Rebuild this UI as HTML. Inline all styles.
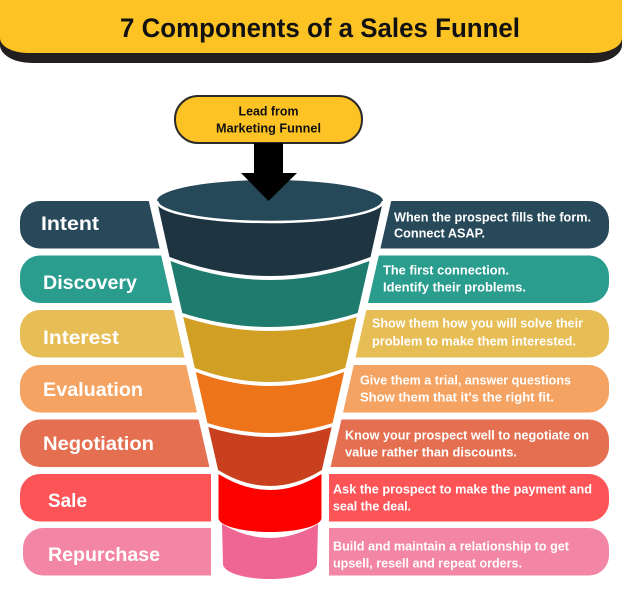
<!DOCTYPE html>
<html>
<head>
<meta charset="utf-8">
<style>
  html,body{margin:0;padding:0;background:#fff;}
  svg{display:block;}
  text{font-family:"Liberation Sans", Arial, sans-serif;font-weight:bold;}
</style>
</head>
<body>
<svg width="622" height="590" viewBox="0 0 622 590" xmlns="http://www.w3.org/2000/svg">
  <!-- Header -->
  <path d="M0,-10 H622 V45 A32,18 0 0 1 590,63 H32 A32,18 0 0 1 0,45 Z" fill="#231f20"/>
  <path d="M0,-10 H622 V38 A28,15 0 0 1 594,53 H28 A28,15 0 0 1 0,38 Z" fill="#fdc224"/>
  <text x="120" y="37" font-size="27" fill="#111" textLength="400" lengthAdjust="spacingAndGlyphs">7 Components of a Sales Funnel</text>

  <!-- Lead box -->
  <rect x="175" y="96" width="187" height="47" rx="23" ry="23" fill="#fdc224" stroke="#2a2a2a" stroke-width="2"/>
  <text x="238.5" y="115.5" font-size="12.5" fill="#111" textLength="60" lengthAdjust="spacingAndGlyphs">Lead from</text>
  <text x="216" y="132.5" font-size="12.5" fill="#111" textLength="105" lengthAdjust="spacingAndGlyphs">Marketing Funnel</text>

  <!-- Left pills -->
  <path d="M40,201 H148.8 L159.6,248.5 H40 A20,20 0 0 1 20,228.5 V221 A20,20 0 0 1 40,201 Z" fill="#27495a"/>
  <path d="M40,255.5 H161.2 L172,303 H40 A20,20 0 0 1 20,283 V275.5 A20,20 0 0 1 40,255.5 Z" fill="#2a9d8f"/>
  <path d="M40,310 H173.6 L184.5,357.5 H40 A20,20 0 0 1 20,337.5 V330 A20,20 0 0 1 40,310 Z" fill="#e7bd55"/>
  <path d="M40,365 H186.2 L197,412.5 H40 A20,20 0 0 1 20,392.5 V385 A20,20 0 0 1 40,365 Z" fill="#f4a362"/>
  <path d="M40,419.5 H198.6 L209.4,467 H40 A20,20 0 0 1 20,447 V439.5 A20,20 0 0 1 40,419.5 Z" fill="#e56f51"/>
  <path d="M40,474 H211 V521.5 H40 A20,20 0 0 1 20,501.5 V494 A20,20 0 0 1 40,474 Z" fill="#fd5458"/>
  <path d="M43,528 H211 V575.5 H43 A20,20 0 0 1 23,555.5 V548 A20,20 0 0 1 43,528 Z" fill="#f386a4"/>

  <!-- Left labels -->
  <g fill="#fff" font-size="19.5">
    <text x="41" y="230" textLength="58" lengthAdjust="spacingAndGlyphs">Intent</text>
    <text x="43" y="289" textLength="94" lengthAdjust="spacingAndGlyphs">Discovery</text>
    <text x="43" y="344" textLength="76" lengthAdjust="spacingAndGlyphs">Interest</text>
    <text x="43" y="396" textLength="100" lengthAdjust="spacingAndGlyphs">Evaluation</text>
    <text x="43" y="450" textLength="111" lengthAdjust="spacingAndGlyphs">Negotiation</text>
    <text x="48" y="507" textLength="39" lengthAdjust="spacingAndGlyphs">Sale</text>
    <text x="48" y="561" textLength="112" lengthAdjust="spacingAndGlyphs">Repurchase</text>
  </g>

  <!-- Right pills -->
  <path d="M391.2,201 H589 A20,20 0 0 1 609,221 V228.5 A20,20 0 0 1 589,248.5 H380.4 Z" fill="#27495a"/>
  <path d="M378.8,255.5 H589 A20,20 0 0 1 609,275.5 V283 A20,20 0 0 1 589,303 H368 Z" fill="#2a9d8f"/>
  <path d="M366.4,310 H589 A20,20 0 0 1 609,330 V337.5 A20,20 0 0 1 589,357.5 H355.5 Z" fill="#e7bd55"/>
  <path d="M353.8,365 H589 A20,20 0 0 1 609,385 V392.5 A20,20 0 0 1 589,412.5 H343 Z" fill="#f4a362"/>
  <path d="M341.4,419.5 H589 A20,20 0 0 1 609,439.5 V447 A20,20 0 0 1 589,467 H330.6 Z" fill="#e56f51"/>
  <path d="M329,474 H589 A20,20 0 0 1 609,494 V501.5 A20,20 0 0 1 589,521.5 H329 Z" fill="#fd5458"/>
  <path d="M329,528 H589 A20,20 0 0 1 609,548 V555.5 A20,20 0 0 1 589,575.5 H329 Z" fill="#f386a4"/>

  <!-- Right texts -->
  <g fill="#fff" font-size="13">
    <text x="394" y="221.5" textLength="197" lengthAdjust="spacingAndGlyphs">When the prospect fills the form.</text>
    <text x="394" y="237.5" textLength="91" lengthAdjust="spacingAndGlyphs">Connect ASAP.</text>
    <text x="383" y="274.5" textLength="126" lengthAdjust="spacingAndGlyphs">The first connection.</text>
    <text x="383" y="291.5" textLength="143" lengthAdjust="spacingAndGlyphs">Identify their problems.</text>
    <text x="372" y="327.5" textLength="211" lengthAdjust="spacingAndGlyphs">Show them how you will solve their</text>
    <text x="372" y="345.5" textLength="204" lengthAdjust="spacingAndGlyphs">problem to make them interested.</text>
    <text x="360" y="384.5" textLength="211" lengthAdjust="spacingAndGlyphs">Give them a trial, answer questions</text>
    <text x="360" y="401.5" textLength="194" lengthAdjust="spacingAndGlyphs">Show them that it's the right fit.</text>
    <text x="345" y="439.5" textLength="244" lengthAdjust="spacingAndGlyphs">Know your prospect well to negotiate on</text>
    <text x="345" y="456.5" textLength="172" lengthAdjust="spacingAndGlyphs">value rather than discounts.</text>
    <text x="333" y="493.5" textLength="259" lengthAdjust="spacingAndGlyphs">Ask the prospect to make the payment and</text>
    <text x="333" y="510.5" textLength="78" lengthAdjust="spacingAndGlyphs">seal the deal.</text>
    <text x="333" y="550.5" textLength="236" lengthAdjust="spacingAndGlyphs">Build and maintain a relationship to get</text>
    <text x="333" y="567.5" textLength="189" lengthAdjust="spacingAndGlyphs">upsell, resell and repeat orders.</text>
  </g>

  <!-- Funnel -->
  <!-- Intent body -->
  <path d="M157,201 L169.5,257 Q270,295 370.5,257 L383,201 Z" fill="#1f3441"/>
  <!-- top ellipse -->
  <ellipse cx="270" cy="201" rx="113" ry="21" fill="#26495a"/>
  <path d="M157,201 A113,21 0 0 0 383,201" fill="none" stroke="#fff" stroke-width="2.5"/>
  <!-- Discovery -->
  <path d="M170.5,261 Q270,299 369.5,261 L357.7,313 Q270,341 182.3,313 Z" fill="#1f7b6d"/>
  <!-- Interest -->
  <path d="M183.2,317 Q270,345 356.8,317 L345.2,368 Q270,396 194.8,368 Z" fill="#d19f24"/>
  <!-- Evaluation -->
  <path d="M195.8,372 Q270,400 344.2,372 L332.6,423 Q270,443 207.4,423 Z" fill="#ed7418"/>
  <!-- Negotiation -->
  <path d="M208.3,427 Q270,447 331.7,427 L321.9,470 Q270,502 218.1,470 Z" fill="#c9401f"/>
  <!-- Sale -->
  <path d="M218.5,474 Q270,506 321.5,474 L321.5,518 A51.5,14 0 0 1 218.5,518 Z" fill="#fd0000"/>
  <!-- Repurchase -->
  <path d="M222,524 Q270,552 318,524 L317,564 A47,15 0 0 1 223,564 Z" fill="#ef6593"/>

  <!-- Arrow -->
  <rect x="254" y="143" width="29" height="31" fill="#000"/>
  <path d="M241,173 H297 L268.5,201 Z" fill="#000"/>
</svg>
</body>
</html>
